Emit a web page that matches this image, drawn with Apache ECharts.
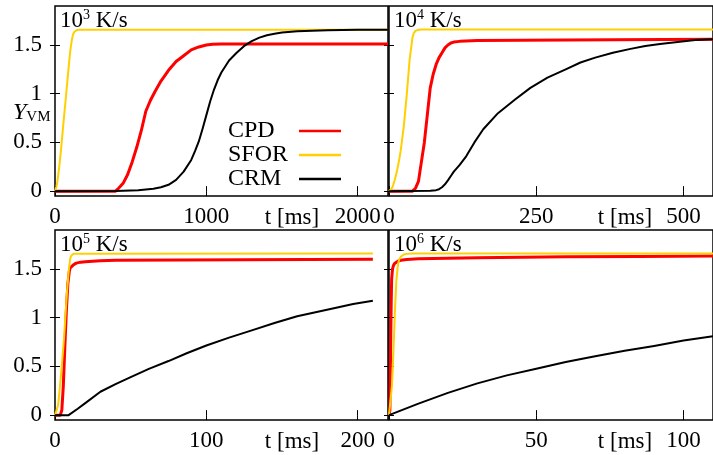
<!DOCTYPE html>
<html><head><meta charset="utf-8">
<script src="https://cdn.jsdelivr.net/npm/echarts@6/dist/echarts.min.js"></script>
<style>html,body{margin:0;padding:0;background:#fff}#c{width:713px;height:455px}</style>
</head><body><div id="c"></div>
<script>
const FONT = '"Liberation Serif", "DejaVu Serif", serif';

// Panel settings (heating rates 10^3 .. 10^6 K/s)
const rateExponents = ['3', '4', '5', '6'];
const xMax = [2200, 550, 220, 110];
const xTicks = [[0, 1000, 2000], [0, 250, 500], [0, 100, 200], [0, 50, 100]];
const yTicks = [0, 0.5, 1, 1.5];
const seriesNames = ['CPD', 'SFOR', 'CRM'];

// 10^3 K/s  [t ms, Y_VM]
const cpd_1e3 = [[0,0],[400,0],[420,0.03],[450,0.08],[480,0.17],[510,0.3],[540,0.45],[570,0.62],[600,0.82],[630,0.93],[660,1.02],[700,1.13],[750,1.24],[800,1.33],[850,1.39],[900,1.45],[950,1.48],[1000,1.5],[1040,1.507],[1100,1.51],[2200,1.51]];
const sfor_1e3 = [[0,0],[5,0.02],[10,0.05],[15,0.09],[20,0.15],[25,0.21],[30,0.28],[40,0.43],[50,0.6],[60,0.77],[70,0.93],[80,1.1],[90,1.27],[100,1.43],[110,1.54],[115,1.58],[120,1.61],[127,1.633],[135,1.647],[145,1.654],[160,1.656],[2200,1.656]];
const crm_1e3 = [[0,0],[400,0.002],[550,0.01],[650,0.025],[700,0.04],[750,0.065],[800,0.115],[850,0.2],[900,0.32],[925,0.41],[950,0.51],[975,0.64],[1000,0.78],[1025,0.92],[1050,1.04],[1075,1.14],[1100,1.22],[1150,1.34],[1200,1.42],[1250,1.49],[1300,1.54],[1350,1.575],[1400,1.6],[1450,1.615],[1500,1.627],[1600,1.64],[1700,1.647],[1800,1.651],[2000,1.655],[2200,1.656]];

// 10^4 K/s
const cpd_1e4 = [[0,0],[40,0],[45,0.03],[50,0.1],[55,0.3],[60,0.5],[65,0.78],[70,1.06],[75,1.2],[80,1.3],[85,1.37],[90,1.42],[95,1.47],[100,1.5],[105,1.52],[110,1.53],[120,1.537],[150,1.545],[300,1.55],[550,1.56]];
const sfor_1e4 = [[0,0],[2.5,0.01],[5,0.03],[7.5,0.07],[10,0.12],[12.5,0.18],[15,0.25],[17.5,0.33],[20,0.42],[25,0.66],[30,0.98],[35,1.35],[40,1.58],[42,1.62],[45,1.645],[47,1.652],[50,1.656],[55,1.659],[60,1.66],[550,1.66]];
const crm_1e4 = [[0,0],[70,0.005],[80,0.01],[85,0.02],[90,0.04],[95,0.07],[100,0.11],[105,0.155],[110,0.2],[120,0.27],[131,0.357],[145,0.5],[160,0.635],[185,0.8],[214,0.94],[240,1.06],[269,1.165],[300,1.25],[325,1.32],[350,1.37],[380,1.42],[410,1.46],[435,1.49],[460,1.51],[490,1.53],[520,1.55],[550,1.56]];

// 10^5 K/s
const cpd_1e5 = [[0,0],[3.5,0],[4.5,0.05],[5.5,0.3],[6.5,0.7],[7.5,1.07],[8.5,1.35],[9.5,1.48],[10,1.51],[11,1.53],[12,1.54],[14,1.56],[17,1.57],[20,1.575],[25,1.58],[30,1.585],[40,1.59],[210,1.6]];
const sfor_1e5 = [[0,0],[1,0],[2,0.1],[3,0.25],[4,0.42],[5,0.6],[6,0.8],[7,1.05],[8,1.28],[9,1.47],[10,1.6],[10.5,1.63],[11,1.645],[12,1.655],[13,1.66],[210,1.66]];
const crm_1e5 = [[0,0],[9,0],[15,0.065],[20,0.123],[30,0.24],[40,0.318],[50,0.39],[62,0.475],[75,0.555],[87,0.635],[100,0.715],[115,0.795],[130,0.87],[145,0.945],[160,1.015],[185,1.1],[197,1.14],[210,1.175]];

// 10^6 K/s
const cpd_1e6 = [[0,0],[0.3,0.05],[0.6,0.8],[0.75,1.15],[0.9,1.4],[1.2,1.5],[1.5,1.535],[2,1.56],[3,1.58],[4,1.59],[6,1.598],[10,1.605],[20,1.61],[30,1.615],[45,1.62],[60,1.625],[85,1.628],[110,1.632]];
const sfor_1e6 = [[0,0],[0.5,0.02],[1,0.3],[1.5,0.65],[2,1.05],[2.5,1.38],[3,1.53],[3.25,1.575],[3.5,1.6],[4,1.625],[4.5,1.64],[5,1.648],[6,1.655],[8,1.66],[110,1.66]];
const crm_1e6 = [[0,0],[10,0.118],[20,0.228],[30,0.326],[40,0.408],[50,0.477],[60,0.545],[70,0.605],[80,0.66],[90,0.71],[100,0.765],[110,0.81]];

const panelData = [
  [cpd_1e3, sfor_1e3, crm_1e3],
  [cpd_1e4, sfor_1e4, crm_1e4],
  [cpd_1e5, sfor_1e5, crm_1e5],
  [cpd_1e6, sfor_1e6, crm_1e6]
];

const colors = ['#ff0000', '#ffd000', '#000000'];
const widths = [3, 2, 2];

const grids = [
  {left: 55, top: 6, width: 333, height: 190},
  {left: 389, top: 6, width: 332, height: 190},
  {left: 55, top: 230, width: 333, height: 190},
  {left: 389, top: 230, width: 332, height: 190}
].map(g => Object.assign({show: true, borderColor: '#000', borderWidth: 1.5, backgroundColor: 'transparent', containLabel: false}, g));

const tickStyle = {show: true, inside: true, length: 5, lineStyle: {color: '#000', width: 1}};
const fmt = v => String(v);
const xAxes = [], yAxes = [];
for (let i = 0; i < 4; i++) {
  xAxes.push({
    type: 'value', gridIndex: i, position: 'bottom', min: 0, max: xMax[i],
    axisLine: {show: false}, splitLine: {show: false},
    axisTick: Object.assign({customValues: xTicks[i]}, tickStyle),
    axisLabel: {customValues: xTicks[i], formatter: fmt, fontFamily: FONT, fontSize: 23, color: '#000', margin: 9}
  });
}
for (let i = 0; i < 4; i++) {
  xAxes.push({
    type: 'value', gridIndex: i, position: 'top', min: 0, max: xMax[i],
    axisLine: {show: false}, splitLine: {show: false},
    axisTick: Object.assign({customValues: xTicks[i]}, tickStyle),
    axisLabel: {show: false}
  });
}
for (let i = 0; i < 4; i++) {
  yAxes.push({
    type: 'value', gridIndex: i, position: 'left', min: -0.05, max: 1.9,
    axisLine: {show: false}, splitLine: {show: false},
    axisTick: Object.assign({customValues: yTicks}, tickStyle),
    axisLabel: {show: i % 2 === 0, customValues: yTicks, formatter: fmt, fontFamily: FONT, fontSize: 23, color: '#000', margin: 13}
  });
}
for (let i = 0; i < 4; i++) {
  yAxes.push({
    type: 'value', gridIndex: i, position: 'right', min: -0.05, max: 1.9,
    axisLine: {show: false}, splitLine: {show: false},
    axisTick: Object.assign({customValues: yTicks}, tickStyle),
    axisLabel: {show: false}
  });
}

const series = [];
for (let i = 0; i < 4; i++) {
  for (let k = 0; k < 3; k++) {
    series.push({
      type: 'line', name: seriesNames[k], xAxisIndex: i, yAxisIndex: i,
      data: panelData[i][k], symbol: 'none', showSymbol: false, smooth: false,
      lineStyle: {color: colors[k], width: widths[k], join: 'round'}, itemStyle: {color: colors[k]},
      animation: false, z: 2 + k
    });
  }
}

const graphics = [];
const titlePos = [[60, 8], [394, 8], [60, 232], [394, 232]];
for (let i = 0; i < 4; i++) {
  graphics.push({
    type: 'text', x: titlePos[i][0], y: titlePos[i][1], z: 10,
    style: {
      text: '{n|10}{s|' + rateExponents[i] + '}{n| K/s}',
      fill: '#000',
      rich: {
        n: {fontFamily: FONT, fontSize: 23, lineHeight: 24, verticalAlign: 'bottom', fill: '#000'},
        s: {fontFamily: FONT, fontSize: 14, lineHeight: 14, verticalAlign: 'top', fill: '#000'}
      }
    }
  });
}
const xlabPos = [[292, 218], [625, 218], [292, 442], [625, 442]];
for (let i = 0; i < 4; i++) {
  graphics.push({
    type: 'text', x: xlabPos[i][0], y: xlabPos[i][1], z: 10,
    style: {text: 't [ms]', fontFamily: FONT, fontSize: 23, fill: '#000', align: 'center', verticalAlign: 'middle'}
  });
}
graphics.push({
  type: 'text', x: 13, y: 101, z: 10,
  style: {
    text: '{y|Y}{v|VM}', fill: '#000',
    rich: {
      y: {fontFamily: FONT, fontSize: 24, fontStyle: 'italic', lineHeight: 24, verticalAlign: 'bottom', fill: '#000'},
      v: {fontFamily: FONT, fontSize: 15, lineHeight: 15, verticalAlign: 'bottom', fill: '#000'}
    }
  }
});

const chart = echarts.init(document.getElementById('c'), null, {renderer: 'canvas'});
chart.setOption({
  animation: false,
  backgroundColor: '#fff',
  grid: grids,
  xAxis: xAxes,
  yAxis: yAxes,
  legend: {
    data: seriesNames.map((n, k) => ({name: n, icon: 'rect', itemStyle: {color: colors[k]}})),
    orient: 'vertical', left: 228, top: 119, align: 'right',
    itemWidth: 42, itemHeight: 2.5, itemGap: 0, padding: 0, selectedMode: false,
    formatter: '{a|{name}}',
    textStyle: {
      color: '#000', fontFamily: FONT, fontSize: 24,
      rich: {a: {width: 66, align: 'left', fontFamily: FONT, fontSize: 24, lineHeight: 24, color: '#000'}}
    }
  },
  graphic: graphics,
  series: series
});
</script>
</body></html>
